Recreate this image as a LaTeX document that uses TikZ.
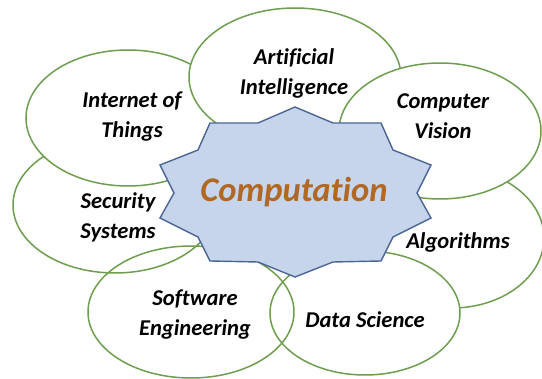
\documentclass[tikz,border=0pt]{standalone}
\usepackage{fontspec}
\setmainfont{Carlito}[Ligatures=NoCommon]
\definecolor{ringgreen}{RGB}{112,158,80}
\definecolor{starfill}{RGB}{198,213,236}
\definecolor{starline}{RGB}{76,102,148}
\definecolor{comptext}{RGB}{176,104,36}
\begin{document}
\begin{tikzpicture}[x=1pt,y=-1pt,
  ring/.style={draw=ringgreen,line width=1.5pt,fill=white},
  ringopen/.style={draw=ringgreen,line width=1.5pt},
  lbl/.style={font=\fontsize{22.6}{30}\selectfont\bfseries\itshape,align=center,inner sep=0pt,text=black},
  startext/.style={font=\fontsize{34.6}{38}\selectfont\bfseries\itshape,inner sep=0pt,text=comptext}]
\useasboundingbox[fill=white] (0,0) rectangle (542,379);
% ellipses (draw order matters)
\draw[ring] (115,205) ellipse [x radius=102, y radius=68];
\draw[ring] (128,118) ellipse [x radius=102, y radius=68];
\draw[ring] (295,77) ellipse [x radius=106, y radius=69];
\draw[ring] (452,238) ellipse [x radius=92, y radius=70];
\draw[ring] (440,131) ellipse [x radius=101, y radius=68];
\draw[ring] (365,313) ellipse [x radius=95, y radius=62];
\draw[ringopen] (191,312) ellipse [x radius=103, y radius=66];
% star
\draw[fill=starfill,draw=starline,line width=1.4pt,line join=miter]
 (295,107) -- (333,123) -- (381,123) -- (393,150) -- (431,165) -- (417,193) --
 (431,218) -- (393,237) -- (381,261) -- (333,262) -- (295,277) -- (258,262) --
 (210,261) -- (198,237) -- (160,218) -- (174,193) -- (160,165) -- (198,150) --
 (210,123) -- (258,123) -- cycle;
% labels
\node[startext] (comp) at (294,192) {Computation};
\node[lbl] (iot) at (132,117) {Internet of\\Things};
\node[lbl] (ai) at (294,73) {Artificial\\Intelligence};
\node[lbl] (cv) at (443,116) {Computer\\Vision};
\node[lbl] (sec) at (118,217) {Security\\Systems};
\node[lbl] (alg) at (458,242) {Algorithms};
\node[lbl] (se) at (195,315) {Software\\Engineering};
\node[lbl] (ds) at (365,320) {Data Science};
\end{tikzpicture}
\end{document}
